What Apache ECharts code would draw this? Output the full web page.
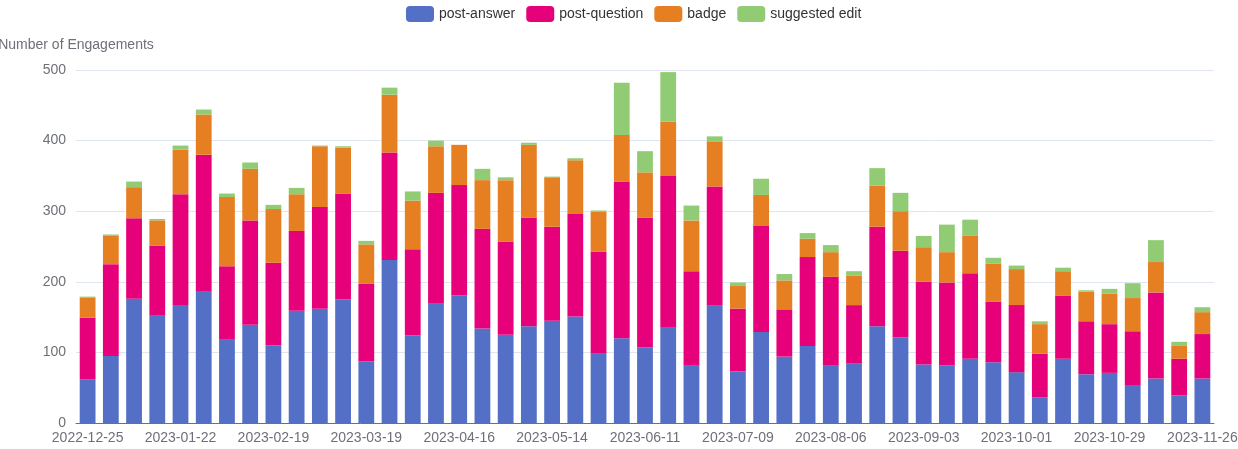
<!DOCTYPE html>
<html>
<head>
<meta charset="utf-8">
<title>Weekly Engagements</title>
<script src="https://cdn.jsdelivr.net/npm/echarts@6/dist/echarts.min.js"></script>
<style>
  html, body { margin: 0; padding: 0; background: #ffffff; }
  #chart { width: 1238px; height: 449px; }
</style>
</head>
<body>
<div id="chart"></div>
<script>
// Week-start dates (Sundays)
const weeks = [
  '2022-12-25','2023-01-01','2023-01-08','2023-01-15','2023-01-22','2023-01-29','2023-02-05',
  '2023-02-12','2023-02-19','2023-02-26','2023-03-05','2023-03-12','2023-03-19','2023-03-26',
  '2023-04-02','2023-04-09','2023-04-16','2023-04-23','2023-04-30','2023-05-07','2023-05-14',
  '2023-05-21','2023-05-28','2023-06-04','2023-06-11','2023-06-18','2023-06-25','2023-07-02',
  '2023-07-09','2023-07-16','2023-07-23','2023-07-30','2023-08-06','2023-08-13','2023-08-20',
  '2023-08-27','2023-09-03','2023-09-10','2023-09-17','2023-09-24','2023-10-01','2023-10-08',
  '2023-10-15','2023-10-22','2023-10-29','2023-11-05','2023-11-12','2023-11-19','2023-11-26'
];

// Engagement counts per week, by type
const postAnswer = [
  62, 95, 176, 152, 167, 187, 118, 139, 110, 159, 162, 175, 87, 231, 124, 169, 181,
  134, 125, 137, 145, 151, 98, 120, 107, 135, 81, 166, 73, 129, 94, 109, 81, 84, 137,
  121, 83, 82, 91, 86, 72, 36, 91, 69, 71, 54, 63, 39, 63
];
const postQuestion = [
  87, 130, 114, 99, 157, 193, 104, 148, 117, 113, 144, 150, 110, 152, 122, 157, 156,
  141, 132, 154, 133, 145, 145, 222, 184, 215, 134, 169, 89, 150, 67, 126, 126, 83, 141,
  123, 117, 117, 121, 86, 95, 62, 89, 75, 69, 76, 122, 52, 63
];
const badge = [
  29, 40, 44, 36, 63, 57, 98, 73, 76, 52, 86, 65, 56, 82, 69, 66, 57,
  69, 87, 103, 69, 76, 56, 66, 64, 77, 72, 64, 32, 44, 41, 26, 35, 42, 58,
  56, 49, 43, 53, 54, 51, 42, 35, 42, 43, 47, 43, 19, 31
];
const suggestedEdit = [
  1, 2, 8, 2, 6, 7, 5, 9, 6, 9, 1, 2, 5, 10, 13, 8, 0,
  16, 4, 3, 2, 3, 2, 74, 30, 70, 21, 7, 5, 23, 9, 8, 10, 6, 25,
  26, 16, 39, 23, 8, 5, 4, 5, 2, 7, 21, 31, 5, 7
];

const seriesNames = ['post-answer', 'post-question', 'badge', 'suggested edit'];
const seriesColors = ['#5470c6', '#e6007a', '#e67e22', '#91cc75'];
const seriesData = [postAnswer, postQuestion, badge, suggestedEdit];

const yTicks = { min: 0, max: 500, interval: 100 };

const chart = echarts.init(document.getElementById('chart'), null, { renderer: 'canvas' });

const fontFamily = '"Liberation Sans", Arial, Helvetica, sans-serif';

chart.setOption({
  animation: false,
  textStyle: { fontFamily: fontFamily },
  color: seriesColors,
  legend: {
    top: 1,
    left: 401,
    itemWidth: 28,
    itemHeight: 16,
    itemGap: 11,
    textStyle: { fontSize: 14, color: '#333', fontFamily: fontFamily }
  },
  grid: { left: 76, right: 24, top: 70, bottom: 26, containLabel: false, outerBoundsMode: 'none' },
  xAxis: {
    type: 'category',
    data: weeks,
    axisLabel: { interval: 3, fontSize: 14, color: '#6E7079', margin: 8 },
    axisTick: { interval: 3, length: 6 },
    axisLine: { lineStyle: { color: '#6E7079' } }
  },
  yAxis: {
    type: 'value',
    name: 'Number of Engagements',
    nameGap: 18,
    nameTextStyle: { fontSize: 14, color: '#6E7079' },
    min: yTicks.min,
    max: yTicks.max,
    interval: yTicks.interval,
    axisLabel: { fontSize: 14, color: '#6E7079', margin: 10 },
    splitLine: { lineStyle: { color: '#E0E6F1' } }
  },
  series: seriesNames.map((name, i) => ({
    name: name,
    type: 'bar',
    stack: 'total',
    barCategoryGap: '32%',
    data: seriesData[i],
    itemStyle: { color: seriesColors[i] }
  }))
});
</script>
</body>
</html>
